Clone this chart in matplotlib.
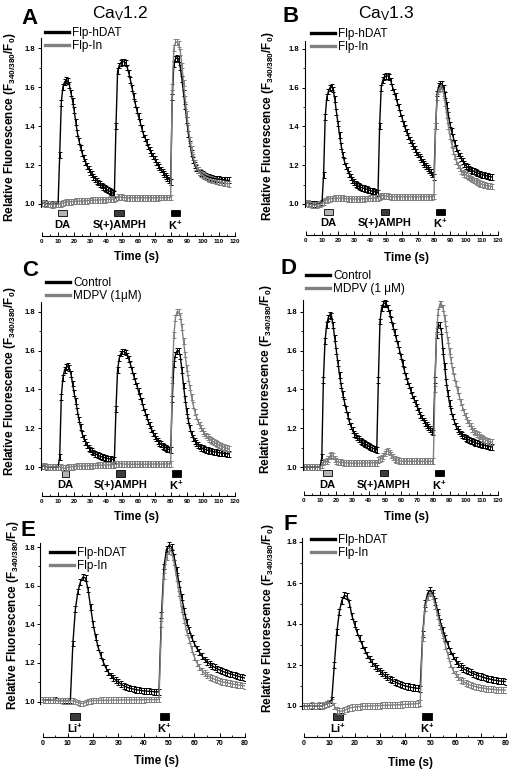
import numpy as np
import matplotlib
matplotlib.use('Agg')
import matplotlib.pyplot as plt
from matplotlib.patches import Rectangle
from matplotlib.lines import Line2D

plt.rcParams['font.family'] = ['Liberation Sans', 'DejaVu Sans']
plt.rcParams['mathtext.fontset'] = 'custom'
plt.rcParams['mathtext.rm'] = 'Liberation Sans'
plt.rcParams['mathtext.it'] = 'Liberation Sans:italic'
plt.rcParams['mathtext.bf'] = 'Liberation Sans:bold'

# sampling times, 1 s steps
time_long = np.arange(0, 117)
time_short = np.arange(0, 81)

# A: CaV1.2, Flp-hDAT / Flp-In
a_hdat = [1.005,1.004,1.003,1.002,1.000,0.999,0.998,0.998,0.999,1.000,
          1.000,1.250,1.520,1.600,1.625,1.635,1.630,1.610,1.570,1.530,
          1.480,1.420,1.365,1.325,1.290,1.260,1.235,1.215,1.195,1.180,
          1.165,1.152,1.140,1.130,1.120,1.110,1.102,1.095,1.088,1.082,
          1.076,1.070,1.065,1.060,1.056,1.052,1.400,1.680,1.710,1.725,
          1.730,1.730,1.725,1.700,1.670,1.635,1.595,1.555,1.515,1.480,
          1.450,1.420,1.390,1.360,1.340,1.320,1.295,1.277,1.260,1.245,
          1.230,1.215,1.200,1.188,1.177,1.166,1.155,1.145,1.135,1.125,
          1.115,1.550,1.720,1.745,1.750,1.745,1.700,1.640,1.570,1.500,
          1.430,1.360,1.310,1.260,1.225,1.200,1.185,1.174,1.165,1.158,
          1.152,1.147,1.143,1.140,1.137,1.135,1.133,1.131,1.129,1.128,
          1.127,1.126,1.125,1.124,1.123,1.122,1.121]
a_flpin = [1.005,1.004,1.002,1.000,0.999,0.998,0.997,0.997,0.998,0.999,
           1.000,1.000,1.002,1.005,1.008,1.010,1.011,1.012,1.012,1.013,
           1.013,1.014,1.014,1.015,1.015,1.016,1.016,1.017,1.017,1.018,
           1.018,1.019,1.019,1.020,1.020,1.021,1.021,1.022,1.022,1.022,
           1.023,1.023,1.024,1.024,1.025,1.025,1.028,1.034,1.037,1.036,
           1.034,1.033,1.032,1.032,1.032,1.032,1.032,1.032,1.032,1.032,
           1.032,1.032,1.032,1.032,1.032,1.032,1.032,1.032,1.032,1.032,
           1.032,1.032,1.032,1.033,1.033,1.033,1.033,1.033,1.033,1.033,
           1.033,1.600,1.800,1.830,1.830,1.820,1.780,1.710,1.620,1.540,
           1.460,1.390,1.330,1.280,1.240,1.210,1.190,1.175,1.163,1.155,
           1.148,1.142,1.137,1.133,1.130,1.127,1.124,1.121,1.119,1.117,
           1.115,1.113,1.111,1.109,1.107,1.105,1.104]

# B: CaV1.3, Flp-hDAT / Flp-In
b_hdat = [1.005,1.004,1.002,1.000,0.999,0.998,0.998,0.999,1.000,1.003,
          1.008,1.150,1.450,1.550,1.580,1.600,1.605,1.590,1.540,1.475,
          1.415,1.355,1.300,1.255,1.220,1.195,1.175,1.155,1.138,1.124,
          1.113,1.104,1.097,1.091,1.087,1.084,1.081,1.078,1.076,1.073,
          1.070,1.067,1.065,1.062,1.059,1.057,1.400,1.600,1.640,1.655,
          1.660,1.660,1.655,1.635,1.605,1.580,1.555,1.525,1.500,1.470,
          1.445,1.415,1.390,1.370,1.350,1.330,1.313,1.300,1.285,1.270,
          1.255,1.243,1.230,1.218,1.207,1.197,1.187,1.175,1.163,1.152,
          1.140,1.400,1.570,1.610,1.620,1.620,1.600,1.560,1.510,1.460,
          1.410,1.375,1.345,1.315,1.290,1.265,1.250,1.235,1.220,1.208,
          1.197,1.189,1.183,1.177,1.172,1.168,1.164,1.160,1.157,1.154,
          1.151,1.149,1.147,1.145,1.143,1.141,1.140]
b_flpin = [1.005,1.004,1.000,0.997,0.996,0.995,0.995,0.996,0.998,1.000,
           1.005,1.012,1.018,1.022,1.025,1.027,1.028,1.028,1.029,1.030,
           1.030,1.030,1.029,1.029,1.028,1.028,1.027,1.027,1.027,1.026,
           1.026,1.026,1.026,1.026,1.027,1.027,1.027,1.028,1.028,1.028,
           1.029,1.029,1.030,1.030,1.031,1.032,1.036,1.042,1.044,1.043,
           1.041,1.040,1.039,1.038,1.038,1.037,1.037,1.037,1.037,1.037,
           1.037,1.037,1.037,1.037,1.037,1.037,1.037,1.037,1.037,1.037,
           1.037,1.037,1.038,1.038,1.038,1.038,1.038,1.038,1.038,1.038,
           1.039,1.400,1.550,1.590,1.600,1.595,1.570,1.520,1.460,1.400,
           1.350,1.310,1.275,1.245,1.220,1.200,1.185,1.172,1.162,1.155,
           1.150,1.143,1.137,1.131,1.126,1.121,1.117,1.113,1.109,1.105,
           1.102,1.099,1.097,1.095,1.093,1.091,1.090]

# C: Control / MDPV (1 uM)
c_ctrl = [1.005,1.004,1.003,1.002,1.001,1.000,1.000,1.000,1.000,1.000,
          1.000,1.050,1.360,1.460,1.500,1.515,1.520,1.510,1.480,1.430,
          1.380,1.340,1.290,1.245,1.205,1.170,1.148,1.130,1.113,1.100,
          1.090,1.082,1.075,1.069,1.064,1.060,1.056,1.053,1.050,1.048,
          1.046,1.044,1.042,1.040,1.039,1.038,1.300,1.500,1.560,1.585,
          1.595,1.595,1.590,1.575,1.555,1.530,1.500,1.470,1.445,1.420,
          1.390,1.365,1.340,1.310,1.285,1.260,1.235,1.215,1.195,1.177,
          1.160,1.147,1.135,1.125,1.117,1.110,1.104,1.099,1.094,1.090,
          1.086,1.350,1.530,1.580,1.600,1.600,1.570,1.500,1.420,1.350,
          1.290,1.240,1.200,1.170,1.150,1.135,1.123,1.113,1.106,1.100,
          1.096,1.092,1.089,1.086,1.084,1.082,1.080,1.078,1.077,1.075,
          1.074,1.073,1.072,1.071,1.070,1.069,1.068]
c_mdpv = [1.005,1.005,1.004,1.003,1.002,1.002,1.001,1.001,1.000,1.000,
          1.000,1.002,1.000,0.995,0.993,0.995,0.998,1.000,1.001,1.002,
          1.003,1.003,1.004,1.004,1.005,1.005,1.006,1.006,1.006,1.007,
          1.007,1.007,1.008,1.008,1.008,1.009,1.009,1.009,1.010,1.010,
          1.010,1.011,1.011,1.011,1.012,1.012,1.014,1.016,1.017,1.017,
          1.016,1.015,1.015,1.014,1.014,1.014,1.014,1.014,1.014,1.014,
          1.014,1.014,1.014,1.014,1.014,1.014,1.014,1.015,1.015,1.015,
          1.015,1.015,1.015,1.015,1.015,1.015,1.016,1.016,1.016,1.016,
          1.016,1.450,1.680,1.770,1.800,1.800,1.780,1.720,1.650,1.580,
          1.510,1.460,1.410,1.360,1.320,1.285,1.260,1.235,1.215,1.200,
          1.185,1.173,1.162,1.153,1.145,1.138,1.132,1.127,1.122,1.117,
          1.113,1.109,1.105,1.102,1.099,1.096,1.093]

# D: Control / MDPV (1 uM)
d_ctrl = [1.000,1.000,1.000,1.000,0.999,0.999,0.999,0.999,1.000,1.000,
          1.000,1.050,1.450,1.650,1.730,1.770,1.785,1.780,1.730,1.665,
          1.600,1.535,1.475,1.420,1.375,1.337,1.300,1.270,1.235,1.210,
          1.190,1.172,1.162,1.152,1.143,1.135,1.128,1.122,1.117,1.112,
          1.107,1.103,1.099,1.095,1.091,1.088,1.450,1.750,1.820,1.840,
          1.845,1.840,1.820,1.795,1.760,1.725,1.695,1.665,1.635,1.605,
          1.570,1.535,1.500,1.470,1.445,1.420,1.395,1.370,1.350,1.330,
          1.310,1.290,1.270,1.255,1.240,1.227,1.215,1.205,1.195,1.186,
          1.178,1.450,1.680,1.730,1.730,1.700,1.600,1.520,1.440,1.380,
          1.330,1.290,1.260,1.235,1.210,1.195,1.183,1.173,1.164,1.157,
          1.150,1.145,1.140,1.136,1.132,1.128,1.125,1.122,1.120,1.117,
          1.115,1.113,1.111,1.109,1.107,1.105,1.104]
d_mdpv = [1.000,1.000,1.000,1.000,1.000,1.000,1.000,1.000,1.000,1.000,
          1.000,1.010,1.025,1.028,1.030,1.040,1.055,1.062,1.055,1.040,
          1.030,1.027,1.025,1.024,1.023,1.022,1.022,1.021,1.021,1.020,
          1.020,1.020,1.020,1.020,1.020,1.020,1.020,1.021,1.021,1.021,
          1.021,1.021,1.022,1.022,1.022,1.022,1.035,1.040,1.045,1.055,
          1.070,1.080,1.082,1.075,1.062,1.050,1.042,1.037,1.034,1.032,
          1.031,1.030,1.030,1.030,1.030,1.030,1.030,1.030,1.030,1.030,
          1.030,1.030,1.029,1.029,1.029,1.029,1.029,1.029,1.029,1.029,
          1.029,1.400,1.700,1.800,1.840,1.840,1.820,1.770,1.710,1.655,
          1.600,1.550,1.500,1.465,1.430,1.395,1.365,1.335,1.310,1.285,
          1.262,1.242,1.225,1.210,1.197,1.187,1.178,1.170,1.163,1.157,
          1.151,1.146,1.141,1.137,1.133,1.130,1.127]

# E: Li+ then K+, Flp-hDAT / Flp-In
e_hdat = [1.010,1.009,1.008,1.007,1.006,1.006,1.005,1.005,1.005,1.005,
          1.005,1.005,1.300,1.480,1.570,1.620,1.645,1.640,1.580,1.490,
          1.400,1.335,1.280,1.240,1.205,1.175,1.152,1.135,1.122,1.110,
          1.100,1.090,1.082,1.076,1.071,1.067,1.064,1.061,1.059,1.057,
          1.055,1.054,1.053,1.052,1.051,1.050,1.050,1.450,1.700,1.790,
          1.810,1.800,1.750,1.680,1.610,1.540,1.470,1.410,1.370,1.330,
          1.300,1.275,1.255,1.235,1.218,1.205,1.195,1.185,1.177,1.170,
          1.163,1.157,1.152,1.148,1.144,1.140,1.136,1.132,1.128,1.125,
          1.122]
e_flpin = [1.010,1.009,1.008,1.007,1.006,1.005,1.005,1.005,1.004,1.004,
           1.004,1.004,1.003,1.000,0.995,0.990,0.990,0.995,1.000,1.003,
           1.005,1.005,1.005,1.006,1.006,1.006,1.006,1.007,1.007,1.007,
           1.007,1.008,1.008,1.008,1.008,1.008,1.009,1.009,1.009,1.009,
           1.009,1.010,1.010,1.010,1.010,1.010,1.010,1.400,1.650,1.750,
           1.780,1.775,1.720,1.640,1.560,1.480,1.420,1.360,1.320,1.270,
           1.230,1.200,1.178,1.160,1.147,1.137,1.128,1.121,1.115,1.110,
           1.106,1.102,1.099,1.096,1.094,1.091,1.089,1.087,1.085,1.083,
           1.081]

# F: Li+ then K+, Flp-hDAT / Flp-In
f_hdat = [1.000,1.000,1.000,1.002,1.000,1.000,1.002,1.000,1.005,1.010,
          1.015,1.030,1.200,1.360,1.460,1.515,1.540,1.535,1.500,1.440,
          1.400,1.360,1.330,1.300,1.275,1.250,1.230,1.212,1.197,1.185,
          1.172,1.160,1.150,1.140,1.132,1.125,1.118,1.112,1.107,1.102,
          1.098,1.095,1.092,1.090,1.088,1.086,1.085,1.350,1.500,1.550,
          1.565,1.550,1.510,1.460,1.410,1.370,1.330,1.300,1.270,1.245,
          1.222,1.205,1.193,1.183,1.176,1.170,1.164,1.158,1.153,1.148,
          1.144,1.140,1.136,1.133,1.130,1.127,1.125,1.123,1.121,1.120,
          1.119]
f_flpin = [1.000,1.002,0.998,1.003,1.000,0.999,1.003,1.000,1.004,1.010,
           1.015,1.020,1.000,0.980,0.975,0.975,0.978,0.985,0.990,0.993,
           0.995,0.996,0.997,0.998,0.999,1.000,1.000,1.001,1.001,1.002,
           1.002,1.003,1.003,1.004,1.004,1.005,1.005,1.006,1.006,1.007,
           1.008,1.008,1.009,1.010,1.011,1.012,1.015,1.330,1.480,1.530,
           1.550,1.535,1.490,1.440,1.390,1.345,1.295,1.250,1.205,1.175,
           1.155,1.140,1.128,1.120,1.112,1.106,1.101,1.097,1.094,1.091,
           1.089,1.087,1.085,1.083,1.082,1.081,1.080,1.079,1.078,1.078,
           1.077]

sem_black = 0.015
sem_gray = 0.015

# stimulus bars (start s, end s, label)
stim_a = [(9.7, 15.3, 'DA'), (45.0, 51.0, 'S(+)AMPH'), (80.2, 85.8, 'K$^{\\mathbf{+}}$')]
stim_b = [(11.5, 16.7, 'DA'), (46.9, 52.0, 'S(+)AMPH'), (81.0, 87.0, 'K$^{\\mathbf{+}}$')]
stim_c = [(12.2, 17.0, 'DA'), (46.0, 51.6, 'S(+)AMPH'), (81.0, 86.4, 'K$^{\\mathbf{+}}$')]
stim_d = [(11.9, 17.1, 'DA'), (46.9, 52.0, 'S(+)AMPH'), (80.9, 86.4, 'K$^{\\mathbf{+}}$')]
stim_e = [(11.0, 14.8, 'Li$^{\\mathbf{+}}$'), (46.4, 50.0, 'K$^{\\mathbf{+}}$')]
stim_f = [(11.5, 15.4, 'Li$^{\\mathbf{+}}$'), (46.8, 50.6, 'K$^{\\mathbf{+}}$')]
box_colors = {'DA': '#b4b4b4', 'S(+)AMPH': '#3c3c3c'}

leg_dat = ['Flp-hDAT', 'Flp-In']
leg_c = ['Control', 'MDPV (1μM)']
leg_d = ['Control', 'MDPV (1 μM)']

W, H = 513, 771
BLACK = '#000000'
GRAY = '#808080'
fig = plt.figure(figsize=(W / 100, H / 100), dpi=100)

ylab = r'Relative Fluorescence (F$_{\mathbf{340/380}}$/F$_{\mathbf{0}}$)'


def ftext(px, py, s, **kw):
    fig.text(px / W, 1 - py / H, s, ha='center', va='center', **kw)


# geometry in pixels: x of t=0, x of t=max, y of 1.0, px per unit, y of time axis
panels = [
    dict(t=time_long, k=a_hdat, g=a_flpin, stim=stim_a, leg=leg_dat, x0=42, x1=235, xmax=120,
         y1=204, s=195, ax_px=236, box=(210, 216, 225), legxy=(45, 27), ytop=1.85,
         letter=('A', 30, 18), ylab=(10, 127), tlab=(137, 257), xfs=4.5),
    dict(t=time_long, k=b_hdat, g=b_flpin, stim=stim_b, leg=leg_dat, x0=306, x1=498, xmax=120,
         y1=204, s=194, ax_px=234.5, box=(208.5, 214.5, 223), legxy=(311, 28), ytop=1.84,
         letter=('B', 291, 16), ylab=(268, 126), tlab=(406, 258), xfs=4.5),
    dict(t=time_long, k=c_ctrl, g=c_mdpv, stim=stim_c, leg=leg_c, x0=42, x1=235, xmax=120,
         y1=467, s=194, ax_px=496, box=(470, 476.5, 485), legxy=(46, 277), ytop=1.85,
         letter=('C', 30, 270), ylab=(10, 381), tlab=(137, 517), xfs=4.5),
    dict(t=time_long, k=d_ctrl, g=d_mdpv, stim=stim_d, leg=leg_d, x0=304, x1=498, xmax=120,
         y1=467, s=194, ax_px=495, box=(469.5, 476, 485), legxy=(306, 270), ytop=1.86,
         letter=('D', 288, 269), ylab=(266, 379), tlab=(406, 517), xfs=4.5),
    dict(t=time_short, k=e_hdat, g=e_flpin, stim=stim_e, leg=leg_dat, x0=42.5, x1=245, xmax=80,
         y1=701.5, s=193, ax_px=737, box=(712.5, 719.5, 728), legxy=(50, 547), ytop=1.82,
         letter=('E', 28, 530), ylab=(13, 615), tlab=(156, 761), xfs=5),
    dict(t=time_short, k=f_hdat, g=f_flpin, stim=stim_f, leg=leg_dat, x0=304, x1=506, xmax=80,
         y1=706, s=205, ax_px=737, box=(712.5, 720, 728), legxy=(311, 534), ytop=1.82,
         letter=('F', 290, 525), ylab=(268, 618), tlab=(410, 763), xfs=5),
]

for p in panels:
    xmin = -0.8
    pxps = (p['x1'] - p['x0']) / p['xmax']
    left = p['x0'] + xmin * pxps
    width = (p['xmax'] - xmin) * pxps
    top = p['y1'] - 0.9 * p['s']
    ax = fig.add_axes([left / W, 1 - p['ax_px'] / H, width / W, (p['ax_px'] - top) / H])
    ax.set_xlim(xmin, p['xmax'])
    ax.set_ylim(1 - (p['ax_px'] - p['y1']) / p['s'], 1.9)

    def v(py, p=p):
        return 1 + (p['y1'] - py) / p['s']

    ax.errorbar(p['t'], p['k'], yerr=sem_black, color=BLACK, lw=1.0, elinewidth=0.7,
                capsize=1.4, capthick=0.7)
    ax.errorbar(p['t'], p['g'], yerr=sem_gray, color=GRAY, lw=1.0, elinewidth=0.7,
                capsize=1.4, capthick=0.7)

    btop, bbot, lab_y = p['box']
    for t0, t1, name in p['stim']:
        fc = box_colors.get(name, '#000000')
        if name.startswith('Li'):
            fc = '#3c3c3c'
        ax.add_patch(Rectangle((t0, v(bbot)), t1 - t0, v(btop) - v(bbot), facecolor=fc,
                               edgecolor='black', lw=0.6))
        ax.text((t0 + t1) / 2, v(lab_y), name, ha='center', va='center', fontsize=8,
                fontweight='bold')

    for side in ['top', 'right']:
        ax.spines[side].set_visible(False)
    ax.spines['left'].set_bounds(0.985, p['ytop'])
    ax.spines['bottom'].set_bounds(0, p['xmax'])
    ax.spines['left'].set_linewidth(0.8)
    ax.spines['bottom'].set_linewidth(0.8)

    ax.set_xticks(range(0, p['xmax'] + 1, 10))
    ax.set_xticks(range(5, p['xmax'], 10), minor=True)
    ax.set_yticks([1.0, 1.2, 1.4, 1.6, 1.8])
    ax.set_yticks([1.1, 1.3, 1.5, 1.7], minor=True)
    ax.set_yticklabels(['1.0', '1.2', '1.4', '1.6', '1.8'])
    ax.tick_params(axis='x', which='major', direction='in', length=3, width=0.7,
                   labelsize=p['xfs'], pad=2.5)
    ax.tick_params(axis='x', which='minor', direction='in', length=1.6, width=0.6)
    ax.tick_params(axis='y', which='major', direction='out', length=2.5, width=0.7,
                   labelsize=5.5, pad=1.2)
    ax.tick_params(axis='y', which='minor', direction='out', length=1.4, width=0.6)
    for lbl in ax.get_xticklabels() + ax.get_yticklabels():
        lbl.set_fontweight('bold')

    handles = [Line2D([], [], color=BLACK, lw=2.4), Line2D([], [], color=GRAY, lw=2.4)]
    lx, ly = p['legxy']
    ax.legend(handles, p['leg'], loc='upper left', bbox_to_anchor=(lx / W, 1 - ly / H),
              bbox_transform=fig.transFigure, frameon=False, fontsize=8.5, handlelength=2.0,
              handletextpad=0.3, labelspacing=0.12, borderpad=0, borderaxespad=0)

    letter, lx, ly = p['letter']
    ftext(lx, ly, letter, fontsize=16, fontweight='bold')
    ftext(p['ylab'][0], p['ylab'][1], ylab, fontsize=8.5, fontweight='bold', rotation=90)
    ftext(p['tlab'][0], p['tlab'][1], 'Time (s)', fontsize=8.5, fontweight='bold')

ftext(120, 14, r'Ca$_{\mathrm{V}}$1.2', fontsize=12.5)
ftext(386, 14, r'Ca$_{\mathrm{V}}$1.3', fontsize=12.5)

fig.savefig('out.png', dpi=100)
